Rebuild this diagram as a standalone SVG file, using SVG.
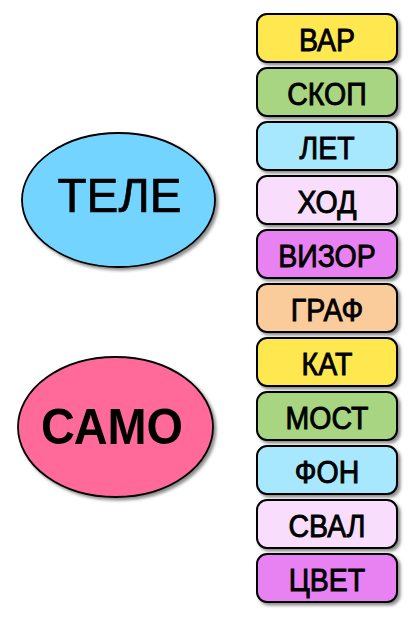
<svg xmlns="http://www.w3.org/2000/svg" width="420" height="618" viewBox="0 0 420 618">
<defs>
<filter id="sh" x="-10%" y="-10%" width="130%" height="140%">
<feDropShadow dx="2.5" dy="2.5" stdDeviation="1.5" flood-color="#000" flood-opacity="0.45"/>
</filter>
</defs>
<style>
.box{stroke:#000;stroke-width:2;filter:url(#sh)}
.ell{stroke:#000;stroke-width:1.8;filter:url(#sh)}
.bt{font-family:"Liberation Sans",Arial,sans-serif;font-size:31px;text-anchor:middle;fill:#000;stroke:#000;stroke-width:0.9px}
.y{fill:#FFE84F}.g{fill:#A8D582}.b{fill:#A8E8FF}.p{fill:#F8DEFC}.v{fill:#E882F2}.o{fill:#FACC9B}
</style>
<rect width="420" height="618" fill="#fff"/>
<g id="tele">
<ellipse class="ell" cx="118.5" cy="200" rx="96.5" ry="67" fill="#72D4FF"/>
<text x="119.5" y="212" font-family="Liberation Sans,Arial,sans-serif" font-size="49" text-anchor="middle" stroke="#000" stroke-width="0.7" textLength="124" lengthAdjust="spacingAndGlyphs">ТЕЛЕ</text>
</g>
<g id="samo">
<ellipse class="ell" cx="115.5" cy="427" rx="97.5" ry="70" fill="#FF6A9B"/>
<text x="112" y="444" font-family="Liberation Sans,Arial,sans-serif" font-size="50" font-weight="bold" text-anchor="middle" textLength="142" lengthAdjust="spacingAndGlyphs">САМО</text>
</g>
<g id="connectors"/>
<g id="n1"><rect class="box y" x="257" y="14" width="140" height="48" rx="10"/><text class="bt" transform="translate(327,50.5) scale(0.92,1)">ВАР</text></g>
<g id="n2"><rect class="box g" x="257" y="68" width="140" height="48" rx="10"/><text class="bt" transform="translate(327,104.5) scale(0.92,1)">СКОП</text></g>
<g id="n3"><rect class="box b" x="257" y="122" width="140" height="48" rx="10"/><text class="bt" transform="translate(327,158.5) scale(0.92,1)">ЛЕТ</text></g>
<g id="n4"><rect class="box p" x="257" y="176" width="140" height="48" rx="10"/><text class="bt" transform="translate(327,212.5) scale(0.92,1)">ХОД</text></g>
<g id="n5"><rect class="box v" x="257" y="230" width="140" height="48" rx="10"/><text class="bt" transform="translate(327,266.5) scale(0.92,1)">ВИЗОР</text></g>
<g id="n6"><rect class="box o" x="257" y="284" width="140" height="48" rx="10"/><text class="bt" transform="translate(327,320.5) scale(0.92,1)">ГРАФ</text></g>
<g id="n7"><rect class="box y" x="257" y="338" width="140" height="48" rx="10"/><text class="bt" transform="translate(327,374.5) scale(0.92,1)">КАТ</text></g>
<g id="n8"><rect class="box g" x="257" y="392" width="140" height="48" rx="10"/><text class="bt" transform="translate(327,428.5) scale(0.92,1)">МОСТ</text></g>
<g id="n9"><rect class="box b" x="257" y="446" width="140" height="48" rx="10"/><text class="bt" transform="translate(327,482.5) scale(0.92,1)">ФОН</text></g>
<g id="n10"><rect class="box p" x="257" y="500" width="140" height="48" rx="10"/><text class="bt" transform="translate(327,536.5) scale(0.92,1)">СВАЛ</text></g>
<g id="n11"><rect class="box v" x="257" y="554" width="140" height="48" rx="10"/><text class="bt" transform="translate(327,590.5) scale(0.92,1)">ЦВЕТ</text></g>
</svg>
